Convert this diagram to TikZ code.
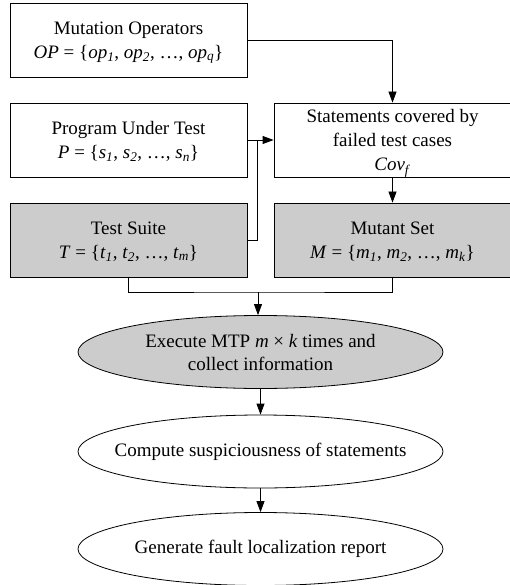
\documentclass[tikz,border=0pt]{standalone}
\usepackage{fontspec}
\setmainfont{Liberation Serif}
\usetikzlibrary{shapes.geometric,arrows.meta}
\definecolor{boxgray}{HTML}{CCCCCC}
\newcommand{\idx}[1]{\textsubscript{\textit{#1}}}
\newcommand{\boxwidth}{237pt}
\newcommand{\boxheight}{74pt}

\begin{document}
\begin{tikzpicture}[x=1pt, y=-1pt,
    font=\fontsize{19}{23}\selectfont,
    block/.style={rectangle, draw=black, line width=0.8pt,
        minimum width=\boxwidth, minimum height=\boxheight,
        inner sep=0pt, align=center,
        font=\fontsize{19}{24}\selectfont, text depth=-4pt},
    shaded/.style={block, fill=boxgray},
    stage/.style={ellipse, draw=black, line width=0.8pt,
        minimum width=365pt, minimum height=73pt,
        inner xsep=-70pt, inner ysep=0pt, align=center},
    arr/.style={line width=0.8pt, -{Triangle[length=11pt,width=8pt]}}
]
\useasboundingbox (0,0) rectangle (510,585);

% Inputs
\node[block] (ops) at (128.5,40)
    {Mutation Operators\\
     \textit{OP} = \{\textit{op}\idx{1}, \textit{op}\idx{2}, …, \textit{op}\idx{q}\}};
\node[block] (put) at (128.5,140)
    {Program Under Test\\
     \textit{P} = \{\textit{s}\idx{1}, \textit{s}\idx{2}, …, \textit{s}\idx{n}\}};
\node[block] (cov) at (392.5,140)
    {Statements covered by\\failed test cases\\\textit{Cov}\idx{f}};
\node[shaded] (suite) at (128.5,240)
    {Test Suite\\
     \textit{T} = \{\textit{t}\idx{1}, \textit{t}\idx{2}, …, \textit{t}\idx{m}\}};
\node[shaded] (mutants) at (392.5,240)
    {Mutant Set\\
     \textit{M} = \{\textit{m}\idx{1}, \textit{m}\idx{2}, …, \textit{m}\idx{k}\}};

% Stages
\node[stage, fill=boxgray] (exec) at (260.5,352)
    {Execute MTP \textit{m} × \textit{k} times and\\collect information};
\node[stage] (susp) at (260.5,451.5)
    {Compute suspiciousness of statements};
\node[stage] (report) at (260.5,549)
    {Generate fault localization report};

% Junctions
\coordinate (join) at (257,140);
\coordinate (merge) at (258,292);

% Connect boxes
\draw[arr] (ops.east) -| (cov.north);
\draw[arr] (put.east) -- (cov.west);
\draw[line width=0.8pt] (suite.east) -| (join);
\draw[arr] (cov.south) -- (mutants.north);
\draw[line width=0.8pt] (suite.south) |- (merge) -| (mutants.south);
\draw[arr] (merge) -- (merge |- exec.north);

% Connect stages
\foreach \a/\b in {exec/susp, susp/report}
{
    \draw[arr] (\a.south) -- (\b.north);
}

\end{tikzpicture}
\end{document}
